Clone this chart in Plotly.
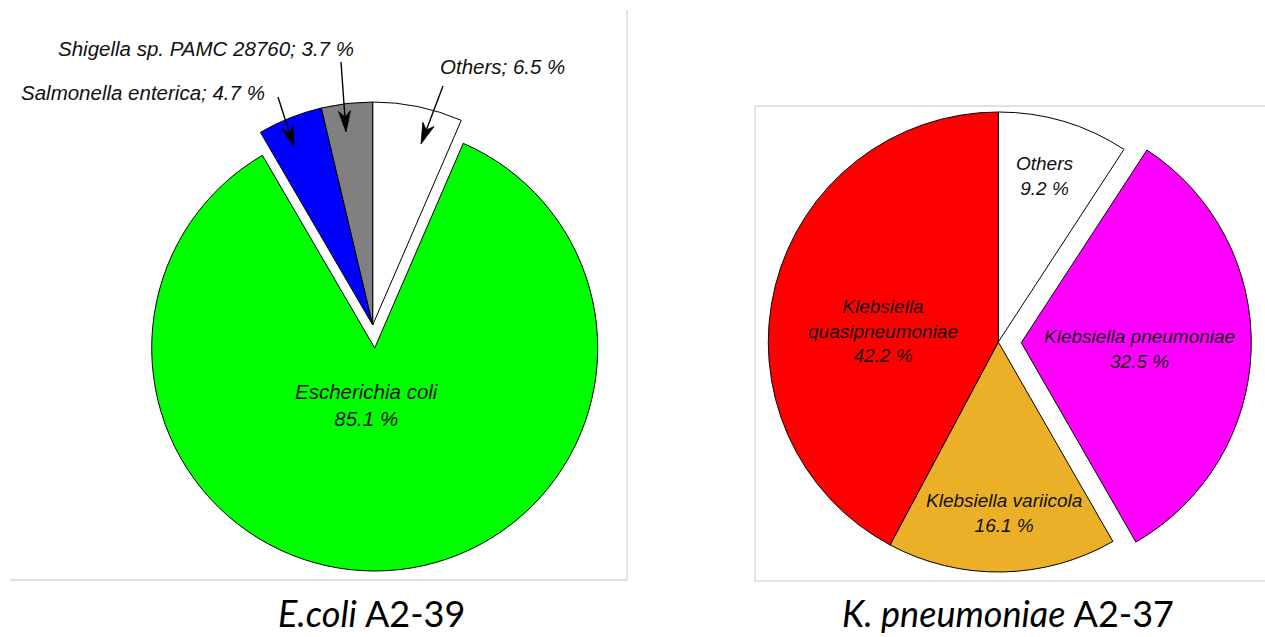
import math
import plotly.graph_objects as go

W, H = 1265, 637

# ---- E. coli A2-39 (clockwise from 12 o'clock) ----
ecoli_names = ["Others", "Escherichia coli", "Salmonella enterica", "Shigella sp. PAMC 28760"]
ecoli_values = [6.5, 85.1, 4.7, 3.7]
ecoli_colors = ["#FFFFFF", "#00FF00", "#0000FF", "#808080"]

# ---- K. pneumoniae A2-37 (clockwise from 12 o'clock) ----
kleb_names = ["Others", "Klebsiella pneumoniae", "Klebsiella variicola", "Klebsiella quasipneumoniae"]
kleb_values = [9.2, 32.5, 16.1, 42.2]
kleb_colors = ["#FFFFFF", "#FF00FF", "#EBB027", "#FF0000"]
kleb_pull = [0, 0.1, 0, 0]

titles = [("E.coli", " A2-39"), ("K. pneumoniae", " A2-37")]

TRANSPARENT = "rgba(0,0,0,0)"
LABEL_FONT = "Liberation Sans, Arial, sans-serif"


def px(x):
    return x / W


def py(y):
    return 1 - y / H


def domain(cx, cy, half):
    return dict(x=[px(cx - half), px(cx + half)], y=[py(cy + half), py(cy - half)])


fig = go.Figure()

# Left pie: the main slice and the detached group of minor slices are drawn as
# two layers with the same radius; the minor group sits a little higher.
R_LEFT = 223
main_idx = 1
fig.add_trace(go.Pie(
    labels=ecoli_names, values=ecoli_values, sort=False, direction="clockwise",
    rotation=0, textinfo="none", hoverinfo="label+percent", showlegend=False,
    marker=dict(colors=[c if i == main_idx else TRANSPARENT for i, c in enumerate(ecoli_colors)],
                line=dict(color="black", width=[1 if i == main_idx else 0 for i in range(4)])),
    domain=domain(374.7, 348, R_LEFT),
))
fig.add_trace(go.Pie(
    labels=ecoli_names, values=ecoli_values, sort=False, direction="clockwise",
    rotation=0, textinfo="none", hoverinfo="label+percent", showlegend=False,
    marker=dict(colors=[TRANSPARENT if i == main_idx else c for i, c in enumerate(ecoli_colors)],
                line=dict(color="black", width=[0 if i == main_idx else 1 for i in range(4)])),
    domain=domain(372.7, 325, R_LEFT),
))

# Right pie with one exploded slice
R_RIGHT = 230
fig.add_trace(go.Pie(
    labels=kleb_names, values=kleb_values, sort=False, direction="clockwise",
    rotation=0, textinfo="none", hoverinfo="label+percent", showlegend=False,
    pull=kleb_pull,
    marker=dict(colors=kleb_colors, line=dict(color="black", width=1)),
    domain=domain(998.3, 342, R_RIGHT * (1 + max(kleb_pull))),
))

annotations = []


def label(x, y, text, size):
    annotations.append(dict(
        x=px(x), y=py(y), xref="paper", yref="paper", text=text, showarrow=False,
        xanchor="center", yanchor="middle",
        font=dict(family=LABEL_FONT, size=size, color="#111111"),
    ))


# Left pie labels
label(367, 405, f"<i>{ecoli_names[1]}<br>{ecoli_values[1]:.1f} %</i>", 20.5)
label(206, 49, f"<i>{ecoli_names[3]}; {ecoli_values[3]:.1f} %</i>", 20.5)
label(143, 92, f"<i>{ecoli_names[2]}; {ecoli_values[2]:.1f} %</i>", 20.5)
label(502, 66, f"<i>{ecoli_names[0]}; {ecoli_values[0]:.1f} %</i>", 20.5)

# Right pie labels
label(1045, 176, f"<i>{kleb_names[0]}<br>{kleb_values[0]:.1f} %</i>", 19)
label(1139, 348.5, f"<i>{kleb_names[1]}<br>{kleb_values[1]:.1f} %</i>", 19)
label(1003.5, 512.5, f"<i>{kleb_names[2]}<br>{kleb_values[2]:.1f} %</i>", 19)
genus, species = kleb_names[3].split(" ")
label(883, 331, f"<i>{genus}<br>{species}<br>{kleb_values[3]:.1f} %</i>", 19)

# Panel captions
for cx, (ital, rest) in zip([371, 1008], titles):
    annotations.append(dict(
        x=px(cx), y=py(613), xref="paper", yref="paper", showarrow=False,
        text=f"<i>{ital}</i>{rest}", xanchor="center", yanchor="middle",
        font=dict(family="Lato, Open Sans, sans-serif", size=36, color="black"),
    ))

shapes = []

# Pointer arrows for the minor slices
arrows = [
    ((341, 62), (346, 132)),
    ((278, 97), (294, 147)),
    ((443, 86), (421, 144)),
]
HEAD_LEN, HEAD_HALF, NOTCH = 21, 6, 15
for (tx, ty), (hx, hy) in arrows:
    dx, dy = hx - tx, hy - ty
    L = math.hypot(dx, dy)
    ux, uy = dx / L, dy / L
    nx, ny = -uy, ux
    bx, by = hx - ux * HEAD_LEN, hy - uy * HEAD_LEN
    mx, my = hx - ux * NOTCH, hy - uy * NOTCH
    shapes.append(dict(type="line", xref="paper", yref="paper",
                       x0=px(tx), y0=py(ty), x1=px(mx), y1=py(my),
                       line=dict(color="black", width=1.4)))
    pts = [(hx, hy), (bx + nx * HEAD_HALF, by + ny * HEAD_HALF), (mx, my),
           (bx - nx * HEAD_HALF, by - ny * HEAD_HALF)]
    path = "M " + " L ".join(f"{px(x):.5f},{py(y):.5f}" for x, y in pts) + " Z"
    shapes.append(dict(type="path", xref="paper", yref="paper", path=path,
                       fillcolor="black", line=dict(color="black", width=0.8)))

# Panel frames
FRAME = dict(color="#D9D9D9", width=1.5)
for x0, y0, x1, y1 in [
    (627, 10, 627, 580), (10, 580, 627, 580),
    (755, 106, 1265, 106), (755, 106, 755, 581), (755, 581, 1265, 581),
]:
    shapes.append(dict(type="line", xref="paper", yref="paper",
                       x0=px(x0), y0=py(y0), x1=px(x1), y1=py(y1), line=FRAME, layer="below"))

fig.update_layout(
    width=W, height=H, autosize=False,
    margin=dict(l=0, r=0, t=0, b=0),
    paper_bgcolor="white", plot_bgcolor="white",
    annotations=annotations, shapes=shapes,
)

fig.write_html("out.html")
